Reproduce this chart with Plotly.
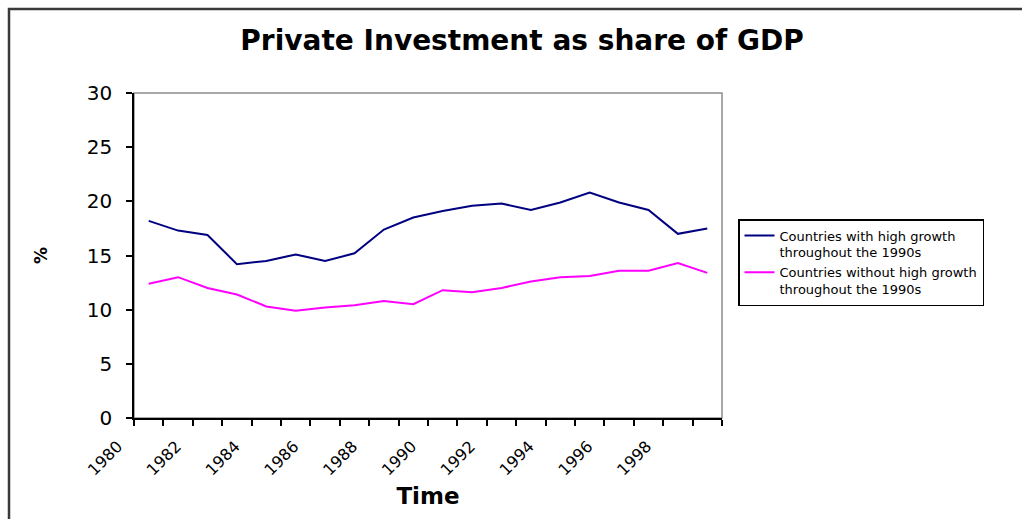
import plotly.graph_objects as go

years = list(range(1980, 2000))
high_growth = [18.2, 17.3, 16.9, 14.2, 14.5, 15.1, 14.5, 15.2, 17.4, 18.5,
               19.1, 19.6, 19.8, 19.2, 19.9, 20.8, 19.9, 19.2, 17.0, 17.5]
no_high_growth = [12.4, 13.0, 12.0, 11.4, 10.3, 9.9, 10.2, 10.4, 10.8, 10.5,
                  11.8, 11.6, 12.0, 12.6, 13.0, 13.1, 13.6, 13.6, 14.3, 13.4]
label_years = list(range(1980, 2000, 2))
y_ticks = [0, 5, 10, 15, 20, 25, 30]

W, H = 1022, 519
L, R, T, B = 134, 722, 93, 418
pw, ph = R - L, B - T


def px(x):
    return (x - L) / pw


def py(y):
    return (B - y) / ph


FONT = "DejaVu Sans"

fig = go.Figure()
fig.add_trace(go.Scatter(x=years, y=high_growth, mode="lines",
                         name="Countries with high growth<br>throughout the 1990s",
                         line=dict(color="#000080", width=2)))
fig.add_trace(go.Scatter(x=years, y=no_high_growth, mode="lines",
                         name="Countries without high growth<br>throughout the 1990s",
                         line=dict(color="#FF00FF", width=2)))

boundaries = [years[0] - 0.5 + i for i in range(len(years) + 1)]

fig.update_layout(
    width=W, height=H,
    margin=dict(l=L, r=W - R, t=T, b=H - B, autoexpand=False),
    paper_bgcolor="white", plot_bgcolor="white",
    font=dict(family=FONT, color="black"),
    title=dict(text="Private Investment as share of GDP", x=522 / W, xref="container",
               xanchor="center", y=1 - 40 / H, yref="container", yanchor="middle",
               font=dict(family=FONT, size=28, color="black", weight="bold")),
    showlegend=True,
    legend=dict(x=px(738), y=py(219), xanchor="left", yanchor="top",
                bordercolor="black", borderwidth=1.5, bgcolor="white",
                font=dict(family=FONT, size=13, color="black"),
                valign="top", tracegroupgap=0, itemwidth=30),
    xaxis=dict(range=[boundaries[0], boundaries[-1]], tickmode="array",
               tickvals=label_years, ticktext=[str(y) for y in label_years],
               ticks="", tickangle=-45, ticklabelshift=-31, ticklabelstandoff=11,
               tickfont=dict(family=FONT, size=16, color="black"),
               showline=True, linecolor="black", linewidth=1.5,
               showgrid=False, zeroline=False,
               minor=dict(tickmode="array", tickvals=boundaries, ticks="outside",
                          ticklen=6, tickwidth=1.5, tickcolor="black", showgrid=False),
               title=dict(text="<b>Time</b>", font=dict(family=FONT, size=23, color="black"),
                          standoff=10)),
    yaxis=dict(range=[0, 30], tickmode="array", tickvals=y_ticks,
               ticks="outside", ticklen=6, tickwidth=1.5, tickcolor="black",
               ticklabelstandoff=10,
               tickfont=dict(family=FONT, size=20, color="black"),
               showline=True, linecolor="black", linewidth=1.5,
               showgrid=False, zeroline=False,
               title=dict(text="<b>%</b>", font=dict(family=FONT, size=17, color="black"),
                          standoff=35)),
    shapes=[
        dict(type="rect", xref="paper", yref="paper", x0=0, x1=1, y0=0, y1=1,
             line=dict(color="#8c8c8c", width=1.5), layer="below"),
        dict(type="rect", xref="paper", yref="paper", x0=px(9), x1=px(1040),
             y0=py(540), y1=py(9), line=dict(color="#3a3a3a", width=2.5), layer="below"),
    ],
)

fig.write_html("out.html", config={"displayModeBar": False},
               post_script="document.body.style.margin='0';")
